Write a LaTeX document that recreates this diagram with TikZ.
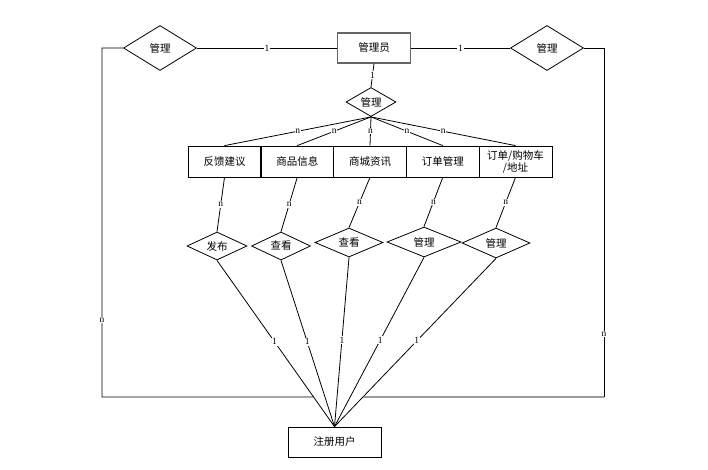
\documentclass[tikz,border=0pt]{standalone}
\usepackage{fontspec}
\setmainfont{Liberation Serif}
\newfontfamily\cjk{Noto Sans CJK SC}
\usepackage{tikz}
\usetikzlibrary{shapes.geometric}

\tikzset{
  ent/.style={draw, line width=0.8, minimum width=73pt, minimum height=31pt, inner sep=1pt, align=center, font=\cjk\fontsize{10.5}{13}\selectfont},
  rel/.style={draw, diamond, aspect=2, line width=0.8, inner sep=0pt, font=\cjk\fontsize{10.5}{13}\selectfont},
  card/.style={fill=white, inner sep=0.8pt, font=\fontsize{9.5}{9.5}\selectfont},
  lnk/.style={line width=0.8},
}

\begin{document}
\begin{tikzpicture}[x=1pt,y=1pt,yscale=-1,xscale=1]
\useasboundingbox (0,0) rectangle (708,469); %keep 708 x 469

%Shape: Rectangle [admin]
\node [ent, draw=black!60, line width=1.2, minimum height=30pt] (adm) at (374,48) {管理员};
%Shape: Diamond [left / right]
\node [rel, minimum width=73pt, minimum height=45pt] (mgl) at (160,48) {管理};
\node [rel, minimum width=73pt, minimum height=45pt] (mgr) at (547,48) {管理};
%Shape: Diamond [centre]
\node [rel, minimum width=50pt, minimum height=29pt] (mgc) at (371,102) {管理};

%Shape: Rectangle row
\node [ent] (fk) at (224.5,161.5) {反馈建议};
\node [ent] (sp) at (297.25,161.5) {商品信息};
\node [ent] (zx) at (370,161.5) {商城资讯};
\node [ent] (dd) at (442.75,161.5) {订单管理};
\node [ent, font=\cjk\fontsize{10.5}{12}\selectfont] (gw) at (515.5,161.5) {订单/购物车\\/地址};

%Shape: Diamond row
\node [rel, minimum width=60pt, minimum height=28pt] (fb) at (217,246) {发布};
\node [rel, minimum width=59pt, minimum height=28pt] (ck1) at (281,246) {查看};
\node [rel, minimum width=68pt, minimum height=29pt] (ck2) at (349,242.5) {查看};
\node [rel, minimum width=74pt, minimum height=30pt] (gl1) at (424,242) {管理};
\node [rel, minimum width=68pt, minimum height=30pt] (gl2) at (496,243) {管理};

%Shape: Rectangle [user]
\node [ent, minimum width=93pt, minimum height=30pt] (usr) at (334.5,442) {注册用户};

%Corners of the frame
\coordinate (bl) at (102,397);
\coordinate (br) at (604,397);

%Straight Lines [admin]
\draw [lnk] (mgl.east) -- (adm.west) node [card, midway] {1};
\draw [lnk] (adm.east) -- (mgr.west) node [card, midway] {1};
\draw [lnk] (adm.south) -- (mgc.north) node [card, midway] {1};

%Straight Lines [upper fan]
\foreach \e in {fk,sp,zx,dd,gw}
  \draw [lnk] (mgc.south) -- (\e.north) node [card, midway] {n};

%Straight Lines [entity to relation]
\draw [lnk] (fk.south) -- (fb.north) node [card, midway] {n};
\draw [lnk] (sp.south) -- (ck1.north) node [card, midway] {n};
\draw [lnk] (zx.south) -- (ck2.north) node [card, midway] {n};
\draw [lnk] (dd.south) -- (gl1.north) node [card, midway] {n};
\draw [lnk] (gw.south) -- (gl2.north) node [card, midway] {n};

%Straight Lines [lower fan]
\foreach \r in {fb,ck1,ck2,gl1,gl2}
  \draw [lnk] (\r.south) -- (usr.north) node [card, pos=0.49] {1};

%Straight Lines [frame]
\draw [lnk] (mgl.west) -| (bl) node [card, pos=0.89] {n}
  -- (intersection of fb.south--usr.north and bl--br);
\draw [lnk] (mgr.east) -| (br) node [card, pos=0.91] {n};
\draw [line width=1.2, draw=black!60] (br) -- (intersection of gl2.south--usr.north and bl--br);
\end{tikzpicture}
\end{document}
